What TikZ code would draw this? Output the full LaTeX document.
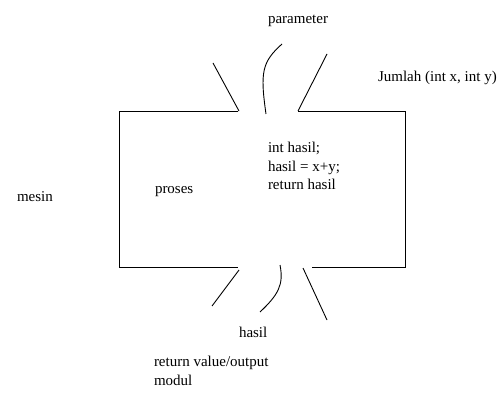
\documentclass[tikz,border=0pt]{standalone}
\usepackage{fontspec}
\setmainfont{Liberation Serif}
\begin{document}
\begin{tikzpicture}[x=1pt,y=-1pt,
  lbl/.style={inner sep=0pt,outer sep=0pt,font=\fontsize{15}{18.3}\selectfont,anchor=west},
  ln/.style={line width=0.9pt,black}]
\useasboundingbox (0,0) rectangle (503,406);
% box corners and gaps
\coordinate (tl) at (119,111);
\coordinate (tr) at (405,111);
\coordinate (bl) at (119,267);
\coordinate (br) at (405,267);
\coordinate (tg1) at (238,111);
\coordinate (tg2) at (298,111);
\coordinate (bg1) at (238,267);
\coordinate (bg2) at (312,267);
\draw[ln] (tg1) -- (tl) -- (bl) -- (bg1);
\draw[ln] (tg2) -- (tr) -- (br) -- (bg2);
% top strokes
\coordinate (a1) at (213,63);
\coordinate (a2) at (239,111);
\draw[ln] (a1) -- (a2);
\coordinate (c1) at (282,44);
\coordinate (c2) at (266,114);
\draw[ln] (c1) .. controls (262,62) and (260,72) .. (c2);
\coordinate (d1) at (327,54);
\coordinate (d2) at (298,111);
\draw[ln] (d1) -- (d2);
% bottom strokes
\coordinate (e1) at (239,270);
\coordinate (e2) at (212,306);
\draw[ln] (e1) -- (e2);
\coordinate (f1) at (280,265);
\coordinate (f2) at (260,312);
\draw[ln] (f1) .. controls (284,285) and (278,295) .. (f2);
\coordinate (g1) at (303,268);
\coordinate (g2) at (327,320);
\draw[ln] (g1) -- (g2);
% labels
\node[lbl,anchor=center] (param) at (298,21) {parameter};
\node[lbl] (jumlah) at (378,78) {Jumlah (int x, int y)};
\node[lbl] (mesin) at (17,197) {mesin};
\node[lbl] (proses) at (155,192) {proses};
\node[lbl,align=left] (code) at (268,166) {int hasil;\\hasil = x+y;\\return hasil};
\node[lbl] (hasil) at (239,332) {hasil};
\node[lbl,align=left] (ret) at (154,371) {return value/output\\modul};
\end{tikzpicture}
\end{document}
